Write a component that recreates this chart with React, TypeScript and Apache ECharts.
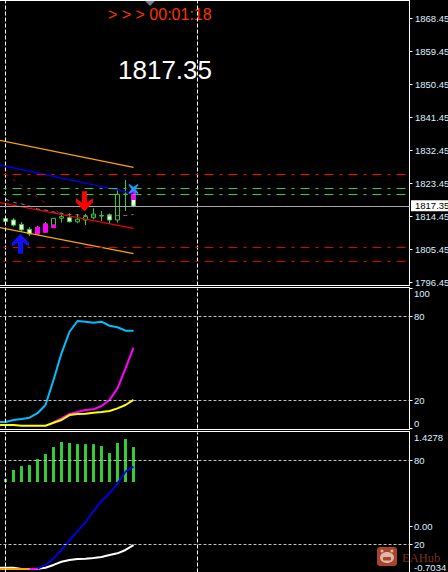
import React, { useEffect, useRef } from "react";
import * as echarts from "echarts";

const BANDS = 52;
const categories = Array.from({ length: BANDS }, (_, i) => String(i));
const currentPrice = 1817.35;
const clockText = "> > > 00:01:18";

// open, close, low, high; index 0 is off-screen
const candles: (number[] | string)[] = [
  "-",
  [1813.9, 1813.1, 1812.1, 1814.6],
  [1813.5, 1812.1, 1811.7, 1814.0],
  [1812.3, 1810.8, 1810.3, 1812.95],
  [1810.96, 1809.7, 1809.1, 1811.6],
  [1811.5, 1809.7, 1809.7, 1811.9],
  [1812.4, 1810.2, 1810.2, 1812.95],
  [1812.1, 1813.96, 1812.1, 1813.96],
  [1814.0, 1814.4, 1812.8, 1815.5],
  [1814.1, 1813.0, 1812.9, 1815.3],
  [1813.0, 1813.7, 1812.6, 1815.1],
  [1813.5, 1814.4, 1812.1, 1815.1],
  [1814.1, 1815.1, 1813.7, 1816.7],
  [1814.65, 1814.75, 1813.2, 1815.95],
  [1814.9, 1813.5, 1812.4, 1815.3],
  [1813.5, 1820.5, 1812.8, 1821.9],
  [1820.45, 1820.55, 1815.95, 1824.4],
  [1819.1, 1817.3, 1817.0, 1819.1],
];
const magentaCandles: (number[] | string)[] = [
  "-", "-", "-", "-", "-",
  [1811.5, 1809.7, 1809.7, 1811.5],
  [1812.4, 1810.2, 1810.2, 1812.4],
  [1812.1, 1811.4, 1811.4, 1812.1],
  "-", "-", "-", "-", "-", "-", "-", "-", "-",
  [1821.2, 1819.1, 1819.1, 1821.2],
];

const orangeTop = [1835.37, ...Array(16).fill(null), 1827.87];
const orangeBottom = [1811.53, ...Array(16).fill(null), 1804.3];
const redChannel = [1818.35, ...Array(16).fill(null), 1811.23];
const blueChannel = [1828.63, ...Array(16).fill(null), 1820.78];
const redDotted = [null, 1826.0, null, null, null, null, null, null, 1815.0];
const grayDashed = [null, 1819.2, 1818.3, 1817.9, 1817.3, 1816.5, 1816.2, 1815.7, 1815.3, 1815.0, 1814.9, 1814.7, 1814.6, 1814.6, 1814.6, 1814.7, 1814.7, 1815.0];

const redLevelHigh = 1825.9;
const greenLevels = [1822.09, 1820.45];
const redLevelsLow = [1806.0, 1802.18];
const priceTicks = [1796.45, 1805.45, 1814.45, 1823.45, 1832.45, 1841.45, 1850.45, 1859.45, 1868.45];

const blueArrow = [[3, 1807.0]];
const redArrow = [[11, 1818.6]];
const crossMark = [[17, 1821.95]];

const cyanLine = [4.6, 4.6, 6.1, 6.8, 7.7, 10.9, 16.8, 34.6, 53.7, 69.1, 76.8, 76.3, 75.6, 76.3, 73.4, 72.3, 69.9, 69.9];
const magentaLine = [null, null, null, null, null, null, null, 4.6, 7.3, 10.4, 11.8, 13.2, 13.7, 16.1, 20.4, 28.7, 43, 57.7];
const yellowLine = [2.5, 2.5, 2.5, 2, 2, 2, 2, 4.1, 6.1, 9.6, 10.4, 10.6, 11.3, 11.8, 12.5, 14.4, 16.8, 20.4];
const osciLevels = [20, 80];
const osciTicks = [0, 20, 80, 100];

const histBase = [null, ...Array(17).fill(64.6)];
const histBars = [null, 2.1, 8.6, 11.4, 12.1, 16.4, 20, 25, 28.6, 27.9, 27.1, 27.1, 27.1, 25.7, 20.7, 27.9, 30.7, 25];
const blueLower = [null, null, null, null, null, 2.7, 5.4, 10.1, 16.1, 23.2, 29.6, 35.9, 43.9, 51.1, 56.6, 63.7, 72, 75.6];
const whiteLower = [3.4, 3.4, 3.4, 2.5, 2.5, 2.7, 3.4, 5.4, 7.7, 8.9, 9.6, 9.9, 10.4, 11.1, 12.5, 13.7, 16.1, 19.6];
const orangeLower = [2.5, 2.5, 2.5, 2.5, 2.5];
const magentaLower = [null, null, null, null, 2.5, 2.7];
const histTicks = [-0.7034, 0, 1.4278];

const ARROW = "path://M8.5 0 L17 9 L17 13 L11 8.5 L11 20 L6 20 L6 8.5 L0 13 L0 9 Z";
const CROSS = "path://M1 0 L5 3 L9 0 L10 1 L7 5 L10 9 L9 10 L5 7 L1 10 L0 9 L3 5 L0 1 Z";

const GREEN = "#32cd32";
const LABEL_FONT = "Liberation Sans";
const LABEL_COLOR = "#dff0ff";

const vLines = () => ({
  silent: true,
  symbol: "none",
  label: { show: false },
  lineStyle: { color: "#ffffff", width: 1, type: [4, 2], opacity: 1 },
  data: [{ xAxis: 1 }, { xAxis: 25 }],
});

const hLines = (levels: number[], color: string, dashOffset = 0, type: any = [9, 6, 3, 6]) =>
  levels.map((v) => ({
    yAxis: v,
    lineStyle: { color, width: 1, type, dashOffset },
    label: { show: false },
  }));

const plainLine = (name: string, data: any[], color: string, xi: number, yi: number, width = 2, extra: any = {}) => ({
  name,
  type: "line",
  xAxisIndex: xi,
  yAxisIndex: yi,
  data,
  symbol: "none",
  connectNulls: true,
  lineStyle: { color, width },
  ...extra,
});

const frame = (x1: number, y1: number, x2: number, y2: number) => ({
  type: "line",
  silent: true,
  shape: { x1, y1, x2, y2 },
  style: { stroke: "#fff", lineWidth: 1 },
});

export default function App() {
  const ref = useRef<HTMLDivElement>(null);
  useEffect(() => {
    document.body.style.margin = "0";
    document.body.style.background = "#000";
    const chart = echarts.init(ref.current!, undefined, { renderer: "svg" });
    const xAxisBase = {
      type: "category",
      data: categories,
      boundaryGap: true,
      axisLine: { show: false },
      axisTick: { show: false },
      axisLabel: { show: false },
      splitLine: { show: false },
    };
    const yBase = {
      position: "right",
      splitLine: { show: false },
      axisLine: { show: false },
      axisTick: { show: true, length: 3, lineStyle: { color: "#fff" } },
    };
    const labelBase = { color: LABEL_COLOR, fontFamily: LABEL_FONT, fontSize: 9.5, margin: 5.5 };
    chart.setOption({
      animation: false,
      backgroundColor: "#000",
      grid: [
        { left: -6.5, width: 416, top: 0.5, height: 285, outerBoundsMode: "none" },
        { left: -6.5, width: 416, top: 288.5, height: 140, outerBoundsMode: "none" },
        { left: -6.5, width: 416, top: 432.5, height: 140, outerBoundsMode: "none" },
      ],
      xAxis: [
        { ...xAxisBase, gridIndex: 0 },
        { ...xAxisBase, gridIndex: 1 },
        { ...xAxisBase, gridIndex: 2 },
      ],
      yAxis: [
        {
          ...yBase,
          type: "value",
          gridIndex: 0,
          min: 1873.495 - 0.27273 * 285.5,
          max: 1873.495 - 0.27273 * 0.5,
          axisTick: { ...yBase.axisTick, customValues: priceTicks },
          axisLabel: { ...labelBase, customValues: priceTicks, formatter: (v: number) => v.toFixed(2) },
        },
        {
          ...yBase,
          type: "value",
          gridIndex: 1,
          min: 0,
          max: 100,
          axisTick: { ...yBase.axisTick, customValues: osciTicks },
          axisLabel: {
            ...labelBase,
            margin: 4.5,
            customValues: osciTicks,
            verticalAlignMinLabel: "bottom",
            verticalAlignMaxLabel: "top",
          },
        },
        {
          ...yBase,
          type: "value",
          gridIndex: 2,
          min: -0.7034,
          max: 1.4278,
          axisTick: { ...yBase.axisTick, customValues: [0] },
          axisLabel: {
            ...labelBase,
            margin: 4.5,
            customValues: histTicks,
            verticalAlignMinLabel: "bottom",
            verticalAlignMaxLabel: "top",
            formatter: (v: number) => (v === 0 ? "0.00" : String(v)),
          },
        },
        {
          ...yBase,
          type: "value",
          gridIndex: 2,
          min: 0,
          max: 100,
          axisTick: { ...yBase.axisTick, customValues: osciLevels },
          axisLabel: { ...labelBase, margin: 4.5, customValues: osciLevels },
        },
      ],
      series: [
        plainLine("channelTop", orangeTop, "#ffa500", 0, 0, 1.3),
        plainLine("channelBottom", orangeBottom, "#ffa500", 0, 0, 1.3),
        plainLine("channelMid", redChannel, "#f00000", 0, 0, 1.3),
        plainLine("trend", blueChannel, "#0000f0", 0, 0, 1.3),
        plainLine("redDots", redDotted, "#c00000", 0, 0, 1, { lineStyle: { color: "#c00000", width: 1, type: [3, 6] } }),
        plainLine("grayDash", grayDashed, "#808080", 0, 0, 1, { lineStyle: { color: "#808080", width: 1, type: [4, 4] } }),
        {
          name: "levels",
          type: "line",
          xAxisIndex: 0,
          yAxisIndex: 0,
          data: [],
          symbol: "none",
          markLine: {
            ...vLines(),
            data: [
              ...vLines().data,
              ...hLines([redLevelHigh], "#ff0000", 4.5),
              ...hLines(greenLevels, "#2ed22e", 4.5),
              ...hLines(redLevelsLow, "#e00000", 4.5),
              {
                yAxis: currentPrice,
                lineStyle: { color: "#a8a8a8", width: 1, type: "solid" },
                label: {
                  show: true,
                  position: "end",
                  distance: 1.5,
                  formatter: currentPrice.toFixed(2),
                  color: "#000",
                  backgroundColor: "#fff",
                  fontFamily: LABEL_FONT,
                  fontSize: 9.5,
                  padding: [1, 6, 0, 4],
                  lineHeight: 10,
                },
              },
            ],
          },
        },
        {
          name: "candles",
          type: "candlestick",
          xAxisIndex: 0,
          yAxisIndex: 0,
          barWidth: 5,
          data: candles,
          itemStyle: { color: "#000", color0: "#fff", borderColor: GREEN, borderColor0: GREEN, borderWidth: 1 },
        },
        {
          name: "magentaCandles",
          type: "candlestick",
          xAxisIndex: 0,
          yAxisIndex: 0,
          barWidth: 5,
          data: magentaCandles,
          itemStyle: { color: "#ff00ff", color0: "#ff00ff", borderColor: "#ff00ff", borderColor0: "#ff00ff", borderWidth: 1 },
        },
        {
          name: "buy",
          type: "scatter",
          xAxisIndex: 0,
          yAxisIndex: 0,
          data: blueArrow,
          symbol: ARROW,
          symbolSize: [17, 20],
          symbolOffset: [-1, 0],
          itemStyle: { color: "#1010f0", opacity: 1 },
          z: 6,
        },
        {
          name: "sell",
          type: "scatter",
          xAxisIndex: 0,
          yAxisIndex: 0,
          data: redArrow,
          symbol: ARROW,
          symbolRotate: 180,
          symbolSize: [17, 20],
          symbolOffset: [-1, 0],
          itemStyle: { color: "#ff0000", opacity: 1 },
          z: 6,
        },
        {
          name: "cross",
          type: "scatter",
          xAxisIndex: 0,
          yAxisIndex: 0,
          data: crossMark,
          symbol: CROSS,
          symbolSize: 10,
          itemStyle: { color: "#1e9cff", opacity: 1 },
          z: 6,
        },
        plainLine("cyan", cyanLine, "#00bfff", 1, 1),
        plainLine("magenta", magentaLine, "#ff00ff", 1, 1),
        plainLine("yellow", yellowLine, "#ffff00", 1, 1, 2, {
          markLine: {
            ...vLines(),
            data: [
              ...vLines().data,
              ...hLines(osciLevels, "#c0c0c0", 0, [3, 2]),
            ],
          },
        }),
        {
          name: "histBase",
          type: "bar",
          xAxisIndex: 2,
          yAxisIndex: 3,
          stack: "hist",
          data: histBase,
          barWidth: 3,
          itemStyle: { color: "transparent" },
        },
        {
          name: "hist",
          type: "bar",
          xAxisIndex: 2,
          yAxisIndex: 3,
          stack: "hist",
          data: histBars,
          barWidth: 3,
          itemStyle: { color: GREEN },
        },
        plainLine("whiteLower", whiteLower, "#ffffff", 2, 3),
        plainLine("orangeLower", orangeLower, "#ffa500", 2, 3),
        plainLine("magentaLower", magentaLower, "#ff00ff", 2, 3),
        plainLine("blueLower", blueLower, "#0000e6", 2, 3, 2, {
          markLine: {
            ...vLines(),
            data: [
              ...vLines().data,
              ...hLines(osciLevels, "#c0c0c0", 0, [3, 2]),
            ],
          },
        }),
      ],
      graphic: [
        frame(0, 0.5, 409.5, 0.5),
        frame(409.5, 0, 409.5, 285.5),
        frame(0, 285.5, 410, 285.5),
        frame(0, 287.5, 410, 287.5),
        frame(409.5, 287.5, 409.5, 429.5),
        frame(0, 429.5, 410, 429.5),
        frame(0, 431.5, 410, 431.5),
        frame(409.5, 431.5, 409.5, 572),
        { type: "polygon", silent: true, shape: { points: [[145, 1], [155, 1], [150, 6]] }, style: { fill: "#708090" } },
        {
          type: "text", silent: true, x: 108, y: 6,
          style: { text: clockText, fill: "#ff3300", font: '16px "Liberation Sans"' },
        },
        {
          type: "text", silent: true, x: 118, y: 57,
          style: { text: currentPrice.toFixed(2), fill: "#fff", font: '26px "Liberation Sans"' },
        },
        { type: "rect", silent: true, shape: { x: 377, y: 547, width: 20, height: 19, r: 3 }, style: { fill: "#a8442c" } },
        { type: "ellipse", silent: true, shape: { cx: 387, cy: 557.5, rx: 7, ry: 5.5 }, style: { fill: "#e0b8a8" } },
        { type: "circle", silent: true, shape: { cx: 382, cy: 551, r: 1.5 }, style: { fill: "#e0b8a8" } },
        { type: "circle", silent: true, shape: { cx: 392, cy: 551, r: 1.5 }, style: { fill: "#e0b8a8" } },
        { type: "rect", silent: true, shape: { x: 383, y: 557, width: 8, height: 3.5, r: 1 }, style: { fill: "#a8442c" } },
        {
          type: "text", silent: true, x: 402, y: 551,
          style: { text: "EAHub", fill: "#7d2d20", font: '12.5px "Liberation Serif"' },
        },
      ],
    });
    return () => chart.dispose();
  }, []);
  return <div ref={ref} style={{ position: "fixed", left: 0, top: 0, width: 448, height: 572 }} />;
}
